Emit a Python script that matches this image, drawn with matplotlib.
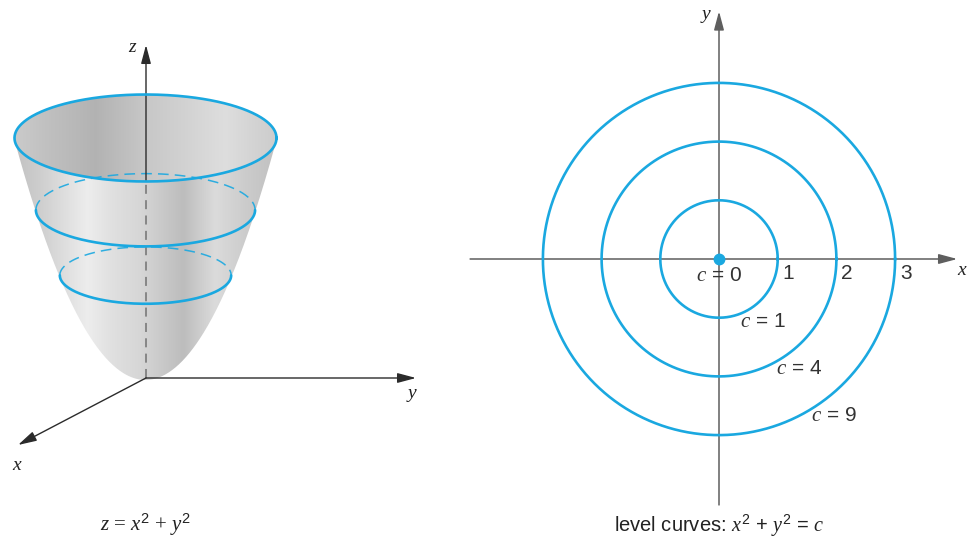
import numpy as np
import matplotlib
matplotlib.use('Agg')
import matplotlib.pyplot as plt
from matplotlib.path import Path
from matplotlib.patches import PathPatch
from matplotlib.colors import LinearSegmentedColormap

plt.rcParams['mathtext.fontset'] = 'custom'
plt.rcParams['mathtext.it'] = 'Liberation Serif:italic'
plt.rcParams['mathtext.rm'] = 'Liberation Sans'
plt.rcParams['font.family'] = ['Liberation Sans', 'DejaVu Sans']

# ---------------- data ----------------
level_c = [1, 4, 9]                 # level values c
level_radii = [1, 2, 3]             # sqrt(c)
tick_values = [1, 2, 3]
tick_labels = ['1', '2', '3']
level_labels = ['$c$ = 1', '$c$ = 4', '$c$ = 9']
level_label_x = [0.75, 1.36, 1.96]
level_label_y = [-1.07, -1.87, -2.66]
surface_trace_z = [3.85, 6.3]       # traces drawn on the surface
surface_top_z = 9.0                 # rim of the paraboloid

CYAN = '#1aa8e0'
W, H = 971, 540
fig = plt.figure(figsize=(W / 100, H / 100), dpi=100)

# ---------------- left panel (projected paraboloid) ----------------
axL = fig.add_axes([0, 0, 460 / W, 1])
axL.axis('off')
ox, oy = 145.5, 378.0
k = 131 / 3.0      # px per radial unit
h = 240 / 9.0      # px per z unit
e = 0.332          # ellipse flattening

def proj(r, th, z):
    return ox + k * r * np.cos(th), oy - h * z + e * k * r * np.sin(th)

R = np.sqrt(surface_top_z)
ustar = e * k / (2 * h)
a = np.arcsin(ustar / R)
th_top = np.linspace(np.pi - a, 2 * np.pi + a, 300)
tx, ty = proj(R, th_top, surface_top_z)
vmax = np.sqrt(R ** 2 - ustar ** 2)
v = np.linspace(vmax, -vmax, 300)
ex = ox + k * v
ey = oy - h * v ** 2 + (e * k) ** 2 / (4 * h)
sil_x = np.concatenate([tx, ex])
sil_y = np.concatenate([ty, ey])
sil_path = Path(np.column_stack([sil_x, sil_y]))

def gray_cmap(stops, name):
    x0, x1 = 10, 280
    return LinearSegmentedColormap.from_list(
        name, [((p - x0) / (x1 - x0), (g, g, g)) for p, g in stops])

outer_stops = [(10, 0.75), (40, 0.81), (87, 0.93), (110, 0.88), (140, 0.84),
               (183, 0.74), (215, 0.86), (245, 0.80), (280, 0.75)]
inner_stops = [(10, 0.80), (50, 0.75), (95, 0.70), (145, 0.78), (190, 0.83),
               (225, 0.87), (260, 0.82), (280, 0.80)]
grad = np.linspace(0, 1, 400)[None, :]

im1 = axL.imshow(grad, cmap=gray_cmap(outer_stops, 'o'), extent=[10, 280, 390, 85],
                 aspect='auto', interpolation='bilinear', zorder=1)
pp1 = PathPatch(sil_path, transform=axL.transData, fc='none', ec='none')
axL.add_patch(pp1)
im1.set_clip_path(pp1)

th_full = np.linspace(0, 2 * np.pi, 400)
fx, fy = proj(R, th_full, surface_top_z)
top_path = Path(np.column_stack([fx, fy]))
im2 = axL.imshow(grad, cmap=gray_cmap(inner_stops, 'i'), extent=[10, 280, 390, 85],
                 aspect='auto', interpolation='bilinear', zorder=2)
pp2 = PathPatch(top_path, transform=axL.transData, fc='none', ec='none')
axL.add_patch(pp2)
im2.set_clip_path(pp2)

# z axis: dashed inside the surface, solid above
z_front = oy - h * surface_top_z + e * k * R
axL.plot([ox + 0.5, ox + 0.5], [oy, z_front], color='#808080', lw=1.3,
         ls=(0, (5, 3.5)), zorder=3)
arrow_kw = dict(arrowstyle='-|>,head_length=0.75,head_width=0.2', color='#2b2b2b',
                lw=1.0, shrinkA=0, shrinkB=0, mutation_scale=15)
axL.annotate('', xy=(ox + 0.5, 45), xytext=(ox + 0.5, z_front), arrowprops=arrow_kw, zorder=5)
axL.annotate('', xy=(416, oy), xytext=(ox + 0.5, oy), arrowprops=arrow_kw, zorder=5)
axL.annotate('', xy=(18, 445), xytext=(ox + 0.5, oy), arrowprops=arrow_kw, zorder=5)

# surface traces
for z in surface_trace_z:
    r = np.sqrt(z)
    th_f = np.linspace(0, np.pi, 200)
    th_b = np.linspace(np.pi, 2 * np.pi, 200)
    axL.plot(*proj(r, th_f, z), color=CYAN, lw=1.9, solid_capstyle='round', zorder=6)
    axL.plot(*proj(r, th_b, z), color=CYAN, lw=1.1, ls=(0, (7, 4)), alpha=0.9, zorder=4)
axL.plot(fx, fy, color=CYAN, lw=1.9, zorder=6)

serif_it = dict(family='Liberation Serif', style='italic', fontsize=14, color='#222222')
axL.text(132, 48, 'z', ha='center', va='center', **serif_it)
axL.text(412, 393, 'y', ha='center', va='center', **serif_it)
axL.text(17, 466, 'x', ha='center', va='center', **serif_it)
axL.text(145, 525, '$z$ = $x^2$ + $y^2$', ha='center', va='center',
         family='Liberation Serif', fontsize=15, color='#222222')
axL.set_xlim(0, 460)
axL.set_ylim(540, 0)

# ---------------- right panel (level curves) ----------------
S = 58.7
x0p, y0p = 719.0, 259.0
axR = fig.add_axes([460 / W, 0, 511 / W, 1])
axR.axis('off')
axR.set_xlim((460 - x0p) / S, (971 - x0p) / S)
axR.set_ylim((y0p - 540) / S, y0p / S)

arrow_r = dict(arrowstyle='-|>,head_length=0.75,head_width=0.2', color='#5e5e5e',
               lw=1.1, shrinkA=0, shrinkB=0, mutation_scale=15)
axR.annotate('', xy=(4.06, 0), xytext=(-4.24, 0), arrowprops=arrow_r, zorder=1)
axR.annotate('', xy=(0, 4.22), xytext=(0, -4.19), arrowprops=arrow_r, zorder=1)

th = np.linspace(0, 2 * np.pi, 500)
for r in level_radii:
    axR.plot(r * np.cos(th), r * np.sin(th), color=CYAN, lw=1.9, zorder=3)
axR.plot([0], [0], 'o', color=CYAN, ms=7.5, zorder=4)

for tv, tl in zip(tick_values, tick_labels):
    axR.text(tv + 0.18, -0.24, tl, ha='center', va='center', fontsize=15, color='#333333')
axR.text(0, -0.28, '$c$ = 0', ha='center', va='center', fontsize=15, color='#333333', zorder=5)
for lx, ly, lab in zip(level_label_x, level_label_y, level_labels):
    axR.text(lx, ly, lab, ha='center', va='center', fontsize=15, color='#333333')

axR.text(4.14, -0.2, 'x', ha='center', va='center', **serif_it)
axR.text(-0.22, 4.16, 'y', ha='center', va='center', **serif_it)
axR.text(0, (y0p - 526) / S, 'level curves: $x^2$ + $y^2$ = $c$', ha='center', va='center',
         fontsize=14.5, color='#222222')

fig.savefig('out.png', dpi=100)
